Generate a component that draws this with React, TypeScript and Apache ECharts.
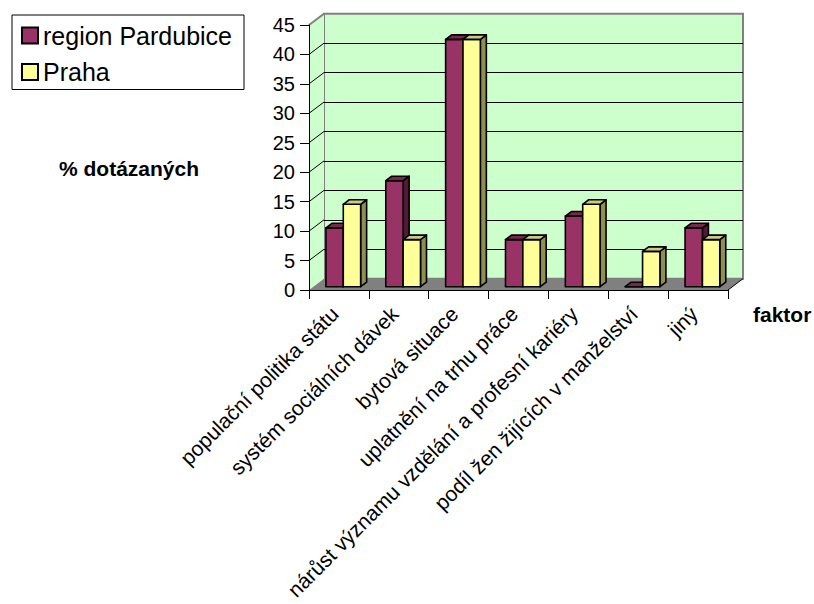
import React, { useEffect, useRef } from "react";
import * as echarts from "echarts";

// Survey factors and the share of respondents naming each one
const CATEGORIES = [
  "populační politika státu",
  "systém sociálních dávek",
  "bytová situace",
  "uplatnění na trhu práce",
  "nárůst významu vzdělání a profesní kariéry",
  "podíl žen žijících v manželství",
  "jiný",
];
const PARDUBICE = [10, 18, 42, 8, 12, 0, 10];
const PRAHA = [14, 8, 42, 8, 14, 6, 8];
const SERIES_NAMES = ["region Pardubice", "Praha"];
const Y_MIN = 0;
const Y_MAX = 45;
const Y_STEP = 5;
const Y_TICKS = [5, 10, 15, 20, 25, 30, 35, 40, 45];

const FONT = 'Arial, "Liberation Sans", sans-serif';

// Pseudo-3D projection: how far the back wall sits from the front plane
const DEPTH_X = 15;
const DEPTH_Y = -11.3;
const BAR_FRONT = 0.29; // bar front face, as a fraction of the full depth
const BAR_DEPTH = 0.4; // bar thickness, as a fraction of the full depth
const BAR_WIDTH = 0.29; // width of one bar, as a fraction of the category band

const FRONT_GRID = { left: 309, top: 25, width: 419, height: 265 };

const COLORS = {
  pardubice: { front: "#993366", top: "#7a2650", side: "#4f1a35" },
  praha: { front: "#ffff99", top: "#cccc7a", side: "#8f8f52" },
};

function makeBarRenderer(slot: number, c: { front: string; top: string; side: string }) {
  return (params: any, api: any) => {
    const i = api.value(0);
    const v = api.value(1);
    const topPt = api.coord([i, v]);
    const basePt = api.coord([i, 0]);
    const band = api.size([1, 0])[0];
    const w = band * BAR_WIDTH;
    const cx = topPt[0] + DEPTH_X * BAR_FRONT;
    const x0 = cx - w + slot * w;
    const x1 = x0 + w;
    const yTop = topPt[1] + DEPTH_Y * BAR_FRONT;
    const yBot = basePt[1] + DEPTH_Y * BAR_FRONT;
    const dx = DEPTH_X * BAR_DEPTH;
    const dy = DEPTH_Y * BAR_DEPTH;
    const stroke = { stroke: "#000", lineWidth: 1.6, lineJoin: "round" };
    return {
      type: "group",
      children: [
        {
          type: "polygon",
          shape: { points: [[x1, yTop], [x1 + dx, yTop + dy], [x1 + dx, yBot + dy], [x1, yBot]] },
          style: { fill: c.side, ...stroke },
        },
        {
          type: "rect",
          shape: { x: x0, y: yTop, width: w, height: yBot - yTop },
          style: { fill: c.front, ...stroke },
        },
        {
          type: "polygon",
          shape: { points: [[x0, yTop], [x0 + dx, yTop + dy], [x1 + dx, yTop + dy], [x1, yTop]] },
          style: { fill: c.top, ...stroke },
        },
      ],
    };
  };
}

// Side wall and floor of the box, derived from the front grid rectangle
function renderWalls(params: any) {
  const cs = params.coordSys;
  const l = cs.x;
  const r = cs.x + cs.width;
  const t = cs.y;
  const b = cs.y + cs.height;
  return {
    type: "group",
    children: [
      {
        type: "polygon",
        shape: { points: [[l, b], [l, t], [l + DEPTH_X, t + DEPTH_Y], [l + DEPTH_X, b + DEPTH_Y]] },
        style: { fill: "#ccffcc", stroke: "none" },
      },
      {
        type: "polygon",
        shape: { points: [[l, b], [r, b], [r + DEPTH_X, b + DEPTH_Y], [l + DEPTH_X, b + DEPTH_Y]] },
        style: { fill: "#808080", stroke: "none" },
      },
      {
        type: "line",
        shape: { x1: r, y1: b, x2: r + DEPTH_X, y2: b + DEPTH_Y },
        style: { stroke: "#000", lineWidth: 1 },
      },
    ],
  };
}

// Gridlines running across the side wall
function renderSideGrid(params: any, api: any) {
  const v = api.value(0);
  const p = api.coord([0, v]);
  const x = params.coordSys.x;
  const isTop = v === Y_MAX;
  return {
    type: "line",
    shape: { x1: x, y1: p[1], x2: x + DEPTH_X, y2: p[1] + DEPTH_Y },
    style: { stroke: isTop ? "#808080" : "#000", lineWidth: isTop ? 2 : 1 },
  };
}

export default function App() {
  const ref = useRef<HTMLDivElement>(null);

  useEffect(() => {
    if (!ref.current) return;
    const chart = echarts.init(ref.current, null, { renderer: "svg" });
    chart.setOption({
      animation: false,
      backgroundColor: "#ffffff",
      textStyle: { fontFamily: FONT },
      grid: [
        { ...FRONT_GRID, show: false, containLabel: false, outerBoundsMode: "none" },
        {
          left: FRONT_GRID.left + DEPTH_X,
          top: FRONT_GRID.top + DEPTH_Y,
          width: FRONT_GRID.width,
          height: FRONT_GRID.height,
          containLabel: false,
          outerBoundsMode: "none",
          show: true,
          backgroundColor: "#ccffcc",
          borderColor: "#808080",
          borderWidth: 2,
        },
      ],
      legend: {
        data: SERIES_NAMES,
        orient: "vertical",
        left: 12,
        top: 15,
        padding: [8, 12, 5, 9],
        itemGap: 11.5,
        itemWidth: 16,
        itemHeight: 16,
        icon: "rect",
        borderColor: "#000",
        borderWidth: 1,
        backgroundColor: "#fff",
        itemStyle: { borderColor: "#000", borderWidth: 2 },
        textStyle: { fontFamily: FONT, fontSize: 25, color: "#000" },
      },
      xAxis: [
        {
          type: "category",
          gridIndex: 0,
          data: CATEGORIES,
          z: 10,
          axisLine: { show: true, lineStyle: { color: "#000", width: 1 } },
          axisTick: { show: true, length: 9, lineStyle: { color: "#000" } },
          axisLabel: {
            interval: 0,
            rotate: 45,
            margin: 16,
            padding: [0, 6, 0, 0],
            fontFamily: FONT,
            fontSize: 21,
            color: "#000",
          },
          splitLine: { show: false },
        },
        {
          type: "category",
          gridIndex: 1,
          data: CATEGORIES,
          show: false,
        },
      ],
      yAxis: [
        {
          type: "value",
          gridIndex: 0,
          min: Y_MIN,
          max: Y_MAX,
          interval: Y_STEP,
          z: 10,
          axisLine: { show: true, lineStyle: { color: "#000", width: 1 } },
          axisTick: { show: true, length: 9, lineStyle: { color: "#000" } },
          axisLabel: { margin: 14, fontFamily: FONT, fontSize: 20, color: "#000" },
          splitLine: { show: false },
        },
        {
          type: "value",
          gridIndex: 1,
          min: Y_MIN,
          max: Y_MAX,
          interval: Y_STEP,
          axisLine: { show: false },
          axisTick: { show: false },
          axisLabel: { show: false },
          splitLine: {
            show: true,
            showMinLine: false,
            showMaxLine: false,
            lineStyle: { color: "#000", width: 1 },
          },
        },
      ],
      graphic: [
        {
          type: "text",
          left: 59,
          top: 158,
          style: { text: "% dotázaných", font: `bold 21px ${FONT}`, fill: "#000" },
        },
        {
          type: "text",
          left: 753,
          top: 304,
          style: { text: "faktor", font: `bold 21px ${FONT}`, fill: "#000" },
        },
      ],
      series: [
        {
          type: "custom",
          name: "walls",
          xAxisIndex: 0,
          yAxisIndex: 0,
          z: 1,
          silent: true,
          data: [[0, 0]],
          renderItem: renderWalls,
        },
        {
          type: "custom",
          name: "sideGrid",
          xAxisIndex: 0,
          yAxisIndex: 0,
          z: 1,
          silent: true,
          encode: { x: 1, y: 0 },
          data: Y_TICKS.map((v) => [v, 0]),
          renderItem: renderSideGrid,
        },
        {
          type: "custom",
          name: SERIES_NAMES[0],
          xAxisIndex: 0,
          yAxisIndex: 0,
          z: 3,
          itemStyle: { color: COLORS.pardubice.front },
          data: PARDUBICE.map((v, i) => [i, v]),
          renderItem: makeBarRenderer(0, COLORS.pardubice),
        },
        {
          type: "custom",
          name: SERIES_NAMES[1],
          xAxisIndex: 0,
          yAxisIndex: 0,
          z: 3,
          itemStyle: { color: COLORS.praha.front },
          data: PRAHA.map((v, i) => [i, v]),
          renderItem: makeBarRenderer(1, COLORS.praha),
        },
      ],
    });
    return () => chart.dispose();
  }, []);

  return (
    <div
      ref={ref}
      style={{ position: "fixed", left: 0, top: 0, width: 814, height: 604 }}
    />
  );
}
